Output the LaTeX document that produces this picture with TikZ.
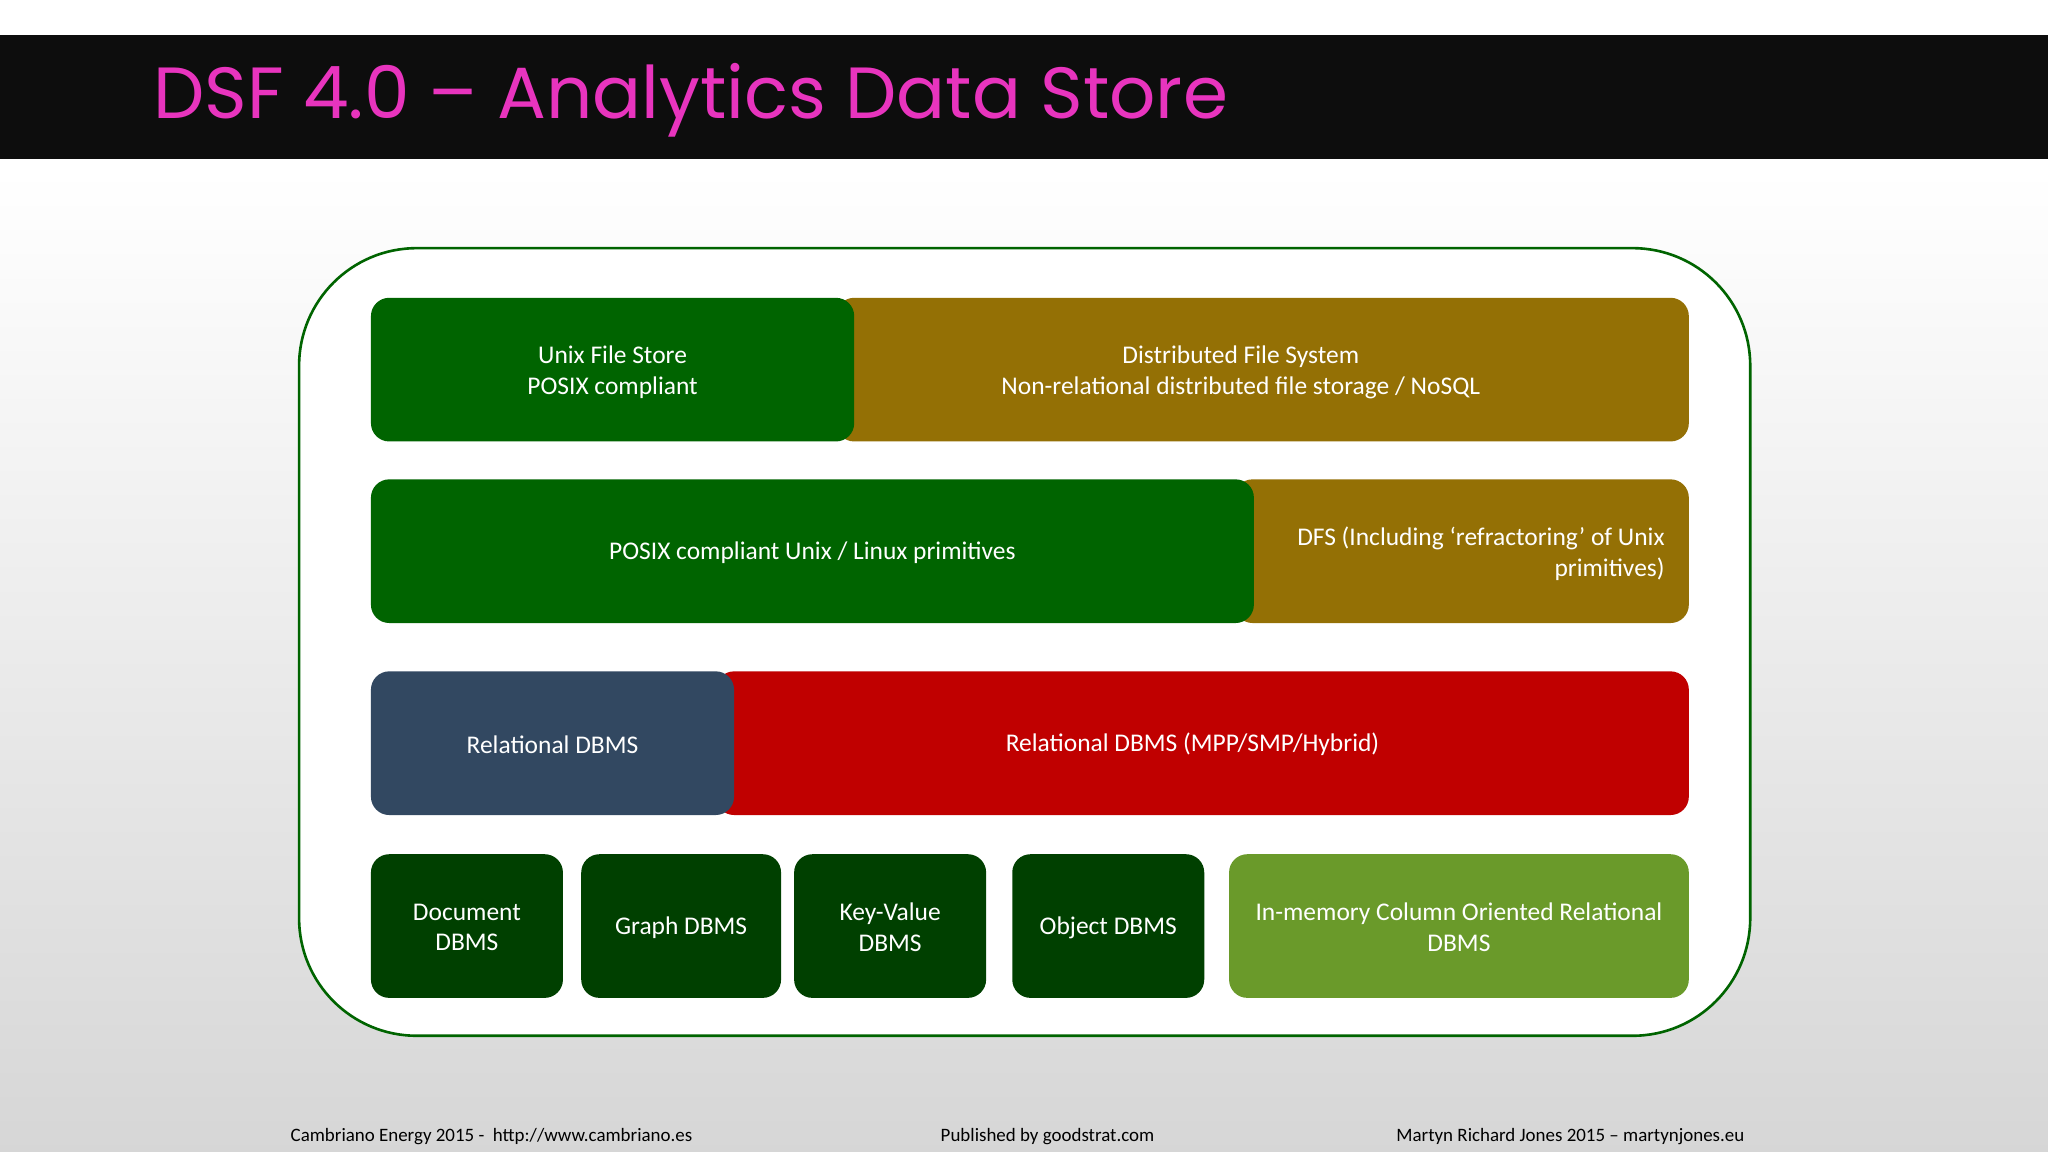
\documentclass[tikz,border=0pt]{standalone}
\usepackage{fontspec}
\setmainfont{Carlito}
\newfontfamily\titlefont{Poppins}
\definecolor{dgreen}{RGB}{0,100,0}
\definecolor{olive}{RGB}{148,112,5}
\definecolor{slate}{RGB}{50,72,97}
\definecolor{dred}{RGB}{192,0,0}
\definecolor{vdgreen}{RGB}{0,64,0}
\definecolor{lgreen}{RGB}{106,154,42}
\definecolor{pink}{RGB}{232,52,190}
\begin{document}
\begin{tikzpicture}[x=1pt,y=-1pt,
  blk/.style={rounded corners=14pt,draw=none},
  lbl/.style={text=white,font=\fontsize{19.5}{23.5}\selectfont,align=center}]
\useasboundingbox (0,0) rectangle (1568,882);
\fill[white] (0,0) rectangle (1568,130);
\shade[top color=white,bottom color=black!16] (0,130) rectangle (1568,882);
\fill[black!95] (0,27) rectangle (1568,122);
\node[anchor=west,text=pink,font=\titlefont\fontsize{55.5}{62}\selectfont] (title) at (114,77) {DSF 4.0 – Analytics Data Store};
\draw[draw=dgreen,line width=2pt,fill=white,rounded corners=90pt] (229,190) rectangle (1340,793);
% row1
\fill[blk,olive] (640,228) rectangle (1293,338);
\fill[blk,dgreen] (284,228) rectangle (654,338);
\node[lbl] (ufs) at (469,285) {Unix File Store\\POSIX compliant};
\node[lbl] (dfs) at (950,285) {Distributed File System\\Non-relational distributed file storage / NoSQL};
% row2
\fill[blk,olive] (945,367) rectangle (1293,477);
\fill[blk,dgreen] (284,367) rectangle (960,477);
\node[lbl] (posix) at (622,423) {POSIX compliant Unix / Linux primitives};
\node[lbl,align=right,anchor=east] (dfs2) at (1278,424) {DFS (Including ‘refractoring’ of Unix\\primitives)};
% row3
\fill[blk,dred] (548,514) rectangle (1293,624);
\fill[blk,slate] (284,514) rectangle (562,624);
\node[lbl] (rdb) at (423,570) {Relational DBMS};
\node[lbl] (mpp) at (913,570) {Relational DBMS (MPP/SMP/Hybrid)};
% row4
\fill[blk,vdgreen] (284,654) rectangle (431,764);
\fill[blk,vdgreen] (445,654) rectangle (598,764);
\fill[blk,vdgreen] (608,654) rectangle (755,764);
\fill[blk,vdgreen] (775,654) rectangle (922,764);
\fill[blk,lgreen] (941,654) rectangle (1293,764);
\node[lbl] (doc) at (357.5,710) {Document\\DBMS};
\node[lbl] (graph) at (521.5,710) {Graph DBMS};
\node[lbl] (kv) at (681.5,710) {Key-Value\\DBMS};
\node[lbl] (obj) at (848.5,710) {Object DBMS};
\node[lbl] (imc) at (1117,710) {In-memory Column Oriented Relational\\DBMS};
% footer
\node[font=\fontsize{14.5}{17}\selectfont,anchor=west] (f1) at (219,870) {Cambriano Energy 2015 -\ \ http://www.cambriano.es};
\node[font=\fontsize{14.5}{17}\selectfont] (f2) at (802,870) {Published by goodstrat.com};
\node[font=\fontsize{14.5}{17}\selectfont,anchor=east] (f3) at (1339,870) {Martyn Richard Jones 2015 – martynjones.eu};
\end{tikzpicture}
\end{document}
